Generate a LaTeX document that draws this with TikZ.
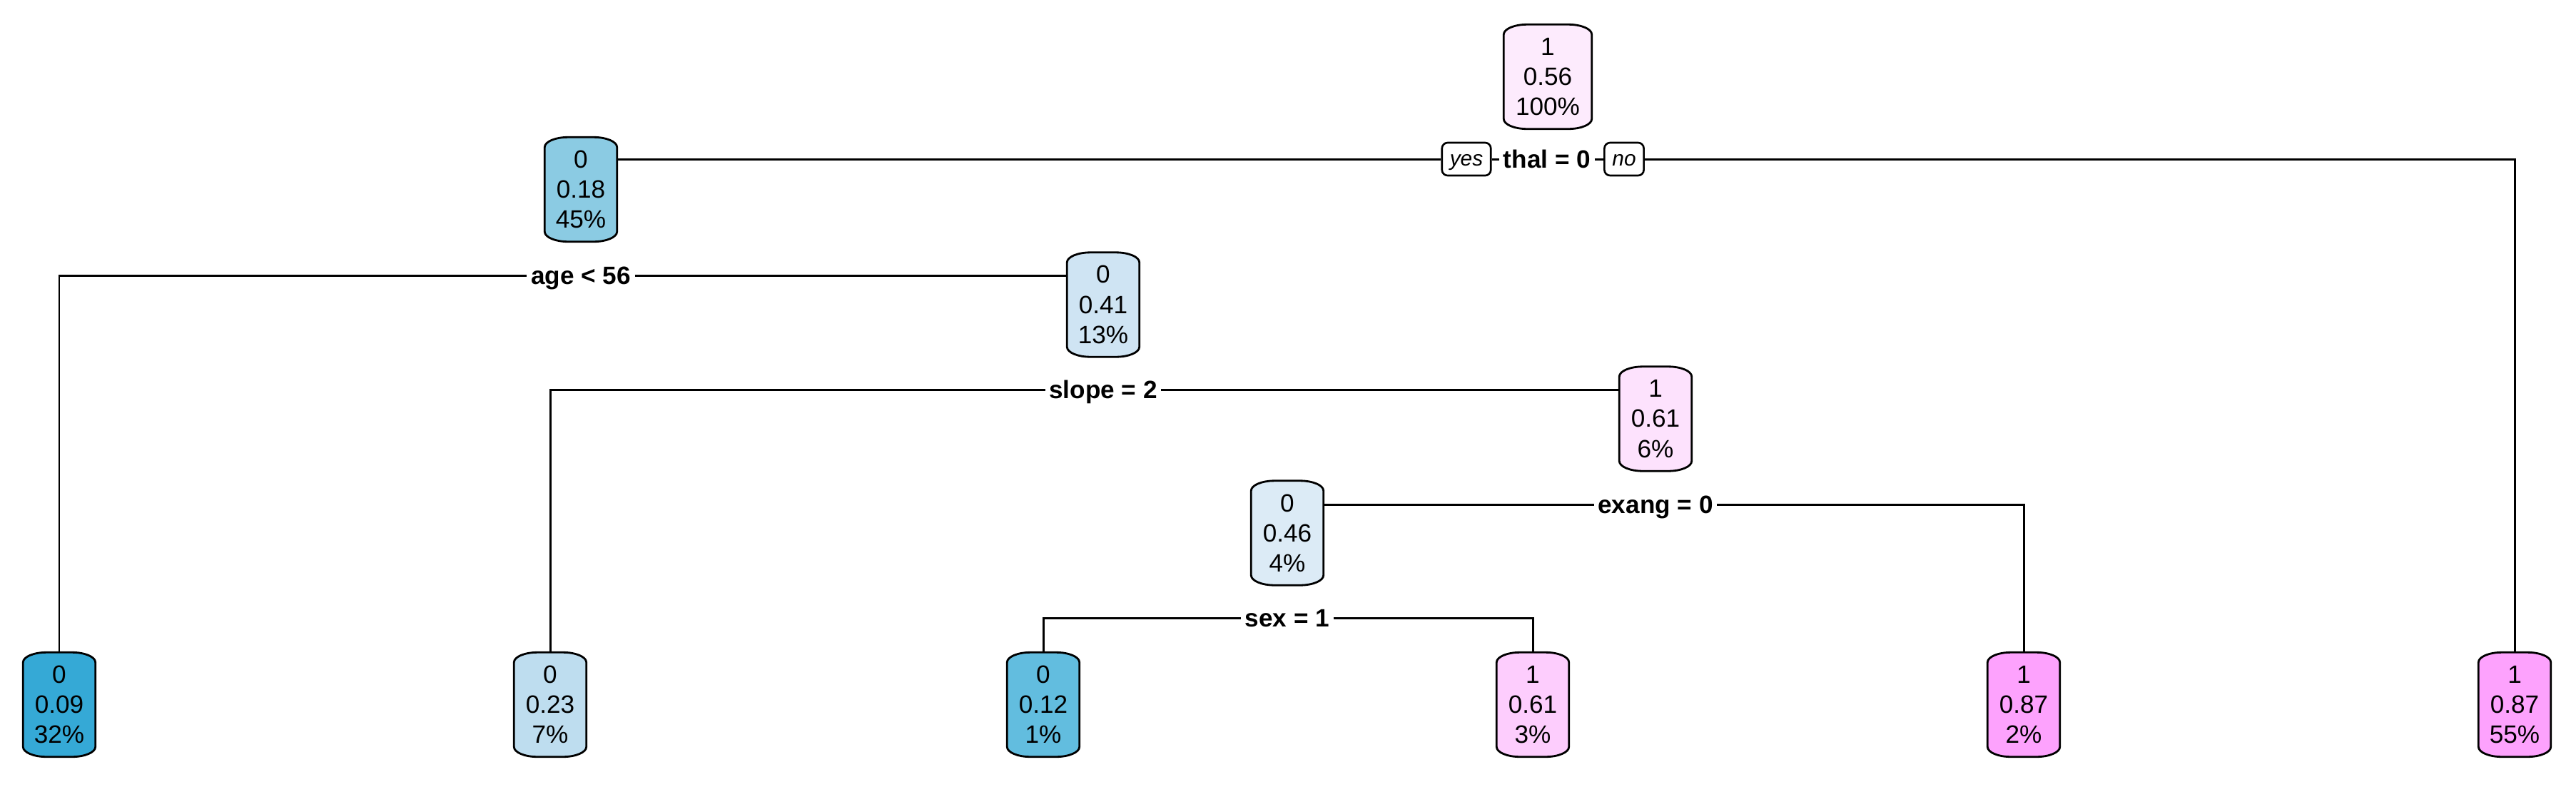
\documentclass[tikz,border=0pt]{standalone}
\usepackage{fontspec}
\setmainfont{Liberation Sans}
\usetikzlibrary{calc,backgrounds}

\definecolor{blA}{HTML}{35A9D6}
\definecolor{blB}{HTML}{62BDDF}
\definecolor{blC}{HTML}{8BCBE3}
\definecolor{blD}{HTML}{BEDDEF}
\definecolor{blE}{HTML}{CFE4F3}
\definecolor{blF}{HTML}{DCEBF6}
\definecolor{pkA}{HTML}{FDEBFD}
\definecolor{pkB}{HTML}{FDE2FD}
\definecolor{pkC}{HTML}{FDCDFD}
\definecolor{pkD}{HTML}{FDA2FD}

\newcommand{\BarrelBox}[2]% #1=node name, #2=fill colour
{\filldraw[line width=0.8pt,fill=#2] ($(#1.north west)+(0,-0.14)$)
   arc[start angle=180,end angle=90,x radius=0.33,y radius=0.14]
   -- ($(#1.north east)+(-0.33,0)$)
   arc[start angle=90,end angle=0,x radius=0.33,y radius=0.14]
   -- ($(#1.south east)+(0,0.14)$)
   arc[start angle=0,end angle=-90,x radius=0.33,y radius=0.14]
   -- ($(#1.south west)+(0.33,0)$)
   arc[start angle=270,end angle=180,x radius=0.33,y radius=0.14]
   -- cycle;
}

\begin{document}
\begin{tikzpicture}[
	tnode/.style={minimum width=1.0cm, minimum height=1.45cm, inner sep=0pt,
		align=center, font=\fontsize{10}{12}\selectfont},
	split/.style={inner xsep=0.05cm, inner ysep=0pt, text height=0.72em,
		text depth=0pt, font=\fontsize{10}{12}\selectfont\bfseries},
	yesno/.style={draw, fill=white, line width=0.75pt, rounded corners=0.08cm,
		minimum height=0.46cm, inner xsep=0.11cm, inner ysep=0pt,
		text height=0.52em, text depth=0pt, font=\fontsize{8.5}{10}\selectfont\itshape},
	edge/.style={line width=0.85pt}
]
	\useasboundingbox (0,0) rectangle (36.10,-11.02);

	%% inner nodes
	\node[tnode,minimum width=1.22cm] (n100) at (21.69,-1.075) {1\\0.56\\100\%};
	\node[tnode] (n45) at (8.14,-2.655) {0\\0.18\\45\%};
	\node[tnode] (n13) at (15.46,-4.27) {0\\0.41\\13\%};
	\node[tnode] (n6) at (23.20,-5.87) {1\\0.61\\6\%};
	\node[tnode] (n4) at (18.04,-7.47) {0\\0.46\\4\%};

	%% leaves
	\node[tnode] (n32) at (0.83,-9.875) {0\\0.09\\32\%};
	\node[tnode] (n7) at (7.71,-9.875) {0\\0.23\\7\%};
	\node[tnode] (n1) at (14.62,-9.875) {0\\0.12\\1\%};
	\node[tnode] (n3) at (21.48,-9.875) {1\\0.61\\3\%};
	\node[tnode] (n2) at (28.36,-9.875) {1\\0.87\\2\%};
	\node[tnode] (n55) at (35.24,-9.875) {1\\0.87\\55\%};

	%% split labels
	\node[split] (thal) at (21.68,-2.23) {thal = 0};
	\node[yesno] (yes) at (20.55,-2.23) {yes};
	\node[yesno] (no) at (22.76,-2.23) {no};
	\node[split] (age) at (8.14,-3.86) {age < 56};
	\node[split] (slope) at (15.46,-5.46) {slope = 2};
	\node[split] (exang) at (23.20,-7.07) {exang = 0};
	\node[split] (sex) at (18.04,-8.66) {sex = 1};

	%% connectors
	\draw[edge] (n45.east |- thal) -- (yes.west);
	\draw[edge] (yes.east) -- (thal.west);
	\draw[edge] (thal.east) -- (no.west);
	\draw[edge] (no.east) -| (n55.north);

	\draw[edge] (n32.north) |- (age.west);
	\draw[edge] (age.east) -- (n13.west |- age);

	\draw[edge] (n7.north) |- (slope.west);
	\draw[edge] (slope.east) -- (n6.west |- slope);

	\draw[edge] (n4.east |- exang) -- (exang.west);
	\draw[edge] (exang.east) -| (n2.north);

	\draw[edge] (n1.north) |- (sex.west);
	\draw[edge] (sex.east) -| (n3.north);

	%% boxes behind the texts
	\begin{scope}[on background layer]
		\BarrelBox{n100}{pkA}
		\BarrelBox{n45}{blC}
		\BarrelBox{n13}{blE}
		\BarrelBox{n6}{pkB}
		\BarrelBox{n4}{blF}
		\BarrelBox{n32}{blA}
		\BarrelBox{n7}{blD}
		\BarrelBox{n1}{blB}
		\BarrelBox{n3}{pkC}
		\BarrelBox{n2}{pkD}
		\BarrelBox{n55}{pkD}
	\end{scope}
\end{tikzpicture}
\end{document}
